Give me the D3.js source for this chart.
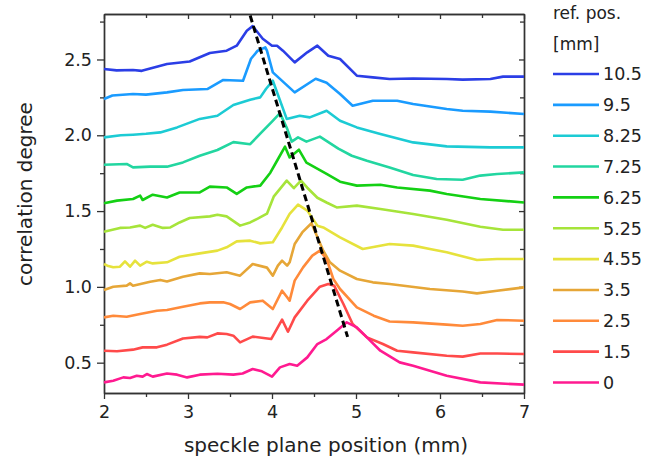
<!DOCTYPE html>
<html>
<head>
<meta charset="utf-8">
<script src="https://cdn.jsdelivr.net/npm/d3@7"></script>
<style>
  body { margin: 0; background: #fff; }
  text { font-family: "DejaVu Sans", sans-serif; fill: #222; }
</style>
</head>
<body>
<div id="chart"></div>
<script>
// reference positions (legend order, top curve first)
var refLabels = ["10.5", "9.5", "8.25", "7.25", "6.25", "5.25", "4.55", "3.5", "2.5", "1.5", "0"]
var refColors = ["#2b3ee6", "#1a9bff", "#1ccbd4", "#22d6a0", "#14d014", "#a6e43a",
                 "#e6e23c", "#e6a637", "#ff8a3a", "#ff4a4a", "#ff1a90"]

// curves: [speckle plane position (mm), correlation degree]
var ref105 = [[2.00,2.437],[2.15,2.428],[2.345,2.431],[2.45,2.425],[2.75,2.470],[3.02,2.487],[3.26,2.543],[3.46,2.558],[3.58,2.591],[3.70,2.690],[3.77,2.720],[3.89,2.637],[4.00,2.591],[4.06,2.591],[4.13,2.558],[4.27,2.481],[4.42,2.547],[4.54,2.591],[4.67,2.525],[4.81,2.503],[5.01,2.393],[5.20,2.382],[5.40,2.371],[5.68,2.375],[6.08,2.371],[6.27,2.367],[6.60,2.371],[6.75,2.387],[7.00,2.387]]
var ref95 = [[2.00,2.239],[2.10,2.262],[2.345,2.272],[2.50,2.268],[2.75,2.283],[2.94,2.299],[3.23,2.305],[3.42,2.365],[3.655,2.360],[3.75,2.505],[3.83,2.558],[3.92,2.580],[3.94,2.558],[4.01,2.415],[4.27,2.283],[4.52,2.373],[4.65,2.347],[4.81,2.272],[4.96,2.195],[5.20,2.228],[5.49,2.228],[5.68,2.206],[6.08,2.173],[6.27,2.162],[6.60,2.156],[7.00,2.140]]
var ref825 = [[2.00,1.986],[2.20,2.000],[2.345,2.004],[2.50,2.010],[2.67,2.019],[2.87,2.052],[3.14,2.108],[3.35,2.129],[3.54,2.200],[3.74,2.235],[3.86,2.250],[3.93,2.307],[4.01,2.360],[4.175,2.108],[4.33,2.129],[4.45,2.118],[4.65,2.162],[4.81,2.096],[5.01,2.052],[5.29,2.009],[5.68,1.953],[6.08,1.927],[6.60,1.920],[7.00,1.920]]
var ref725 = [[2.00,1.806],[2.27,1.811],[2.345,1.788],[2.55,1.793],[2.75,1.793],[2.94,1.821],[3.14,1.865],[3.35,1.903],[3.54,1.955],[3.74,1.941],[3.86,2.011],[4.00,2.090],[4.095,2.146],[4.18,2.044],[4.235,1.958],[4.31,1.986],[4.41,1.958],[4.57,1.991],[4.79,1.912],[4.95,1.865],[5.13,1.832],[5.40,1.788],[5.68,1.738],[5.96,1.712],[6.27,1.707],[6.48,1.734],[6.68,1.745],[7.00,1.755]]
var ref625 = [[2.00,1.551],[2.155,1.569],[2.345,1.580],[2.43,1.602],[2.46,1.573],[2.58,1.608],[2.75,1.590],[2.90,1.623],[3.14,1.623],[3.26,1.661],[3.46,1.656],[3.58,1.613],[3.70,1.656],[3.86,1.668],[3.98,1.753],[4.06,1.832],[4.155,1.925],[4.21,1.854],[4.32,1.905],[4.41,1.819],[4.65,1.745],[4.81,1.694],[5.01,1.668],[5.29,1.674],[5.49,1.656],[5.88,1.635],[6.08,1.613],[6.48,1.580],[7.00,1.557]]
var ref525 = [[2.00,1.364],[2.19,1.389],[2.31,1.392],[2.43,1.404],[2.49,1.389],[2.58,1.410],[2.70,1.389],[2.79,1.392],[2.90,1.425],[3.02,1.454],[3.26,1.465],[3.35,1.476],[3.46,1.465],[3.62,1.404],[3.74,1.425],[3.83,1.450],[3.94,1.483],[4.02,1.595],[4.175,1.701],[4.26,1.651],[4.345,1.701],[4.42,1.654],[4.54,1.588],[4.655,1.555],[4.77,1.524],[5.01,1.536],[5.29,1.514],[5.68,1.481],[6.08,1.443],[6.48,1.397],[6.75,1.377],[7.00,1.377]]
var ref455 = [[2.00,1.151],[2.04,1.140],[2.11,1.129],[2.19,1.133],[2.25,1.168],[2.31,1.133],[2.37,1.173],[2.43,1.140],[2.51,1.166],[2.58,1.155],[2.75,1.162],[2.90,1.199],[3.14,1.221],[3.35,1.239],[3.46,1.261],[3.58,1.300],[3.74,1.305],[3.86,1.287],[4.01,1.294],[4.12,1.392],[4.21,1.481],[4.31,1.542],[4.42,1.503],[4.54,1.404],[4.61,1.392],[4.81,1.327],[5.08,1.250],[5.40,1.283],[5.68,1.272],[5.88,1.250],[6.08,1.228],[6.44,1.177],[6.68,1.184],[7.00,1.184]]
var ref35 = [[2.00,0.980],[2.11,1.001],[2.27,1.008],[2.31,1.023],[2.345,1.008],[2.55,1.034],[2.67,1.046],[2.75,1.036],[2.94,1.067],[3.14,1.089],[3.26,1.085],[3.46,1.096],[3.62,1.074],[3.77,1.151],[3.94,1.127],[4.01,1.074],[4.07,1.140],[4.12,1.173],[4.18,1.140],[4.21,1.162],[4.27,1.283],[4.36,1.359],[4.47,1.420],[4.61,1.239],[4.69,1.162],[4.81,1.107],[5.01,1.052],[5.20,1.030],[5.40,1.019],[5.88,0.986],[6.27,0.970],[6.44,0.957],[6.68,0.975],[7.00,0.997]]
var ref25 = [[2.00,0.799],[2.11,0.810],[2.27,0.803],[2.43,0.821],[2.63,0.843],[2.75,0.848],[2.94,0.869],[3.14,0.891],[3.26,0.898],[3.42,0.898],[3.50,0.887],[3.62,0.854],[3.74,0.898],[3.89,0.909],[4.01,0.854],[4.12,0.975],[4.18,0.931],[4.21,0.909],[4.27,1.041],[4.37,1.129],[4.48,1.206],[4.57,1.239],[4.65,1.184],[4.73,1.052],[4.81,0.986],[5.01,0.865],[5.21,0.810],[5.40,0.772],[5.68,0.766],[6.08,0.751],[6.27,0.744],[6.48,0.755],[6.68,0.782],[7.00,0.777]]
var ref15 = [[2.00,0.579],[2.155,0.575],[2.345,0.586],[2.46,0.601],[2.63,0.601],[2.75,0.619],[2.94,0.660],[3.14,0.670],[3.23,0.667],[3.35,0.693],[3.46,0.689],[3.54,0.678],[3.62,0.634],[3.77,0.672],[3.99,0.656],[4.12,0.784],[4.19,0.704],[4.27,0.799],[4.42,0.909],[4.57,1.001],[4.67,1.019],[4.74,1.008],[4.85,0.887],[4.96,0.755],[5.13,0.667],[5.32,0.623],[5.49,0.579],[5.68,0.568],[6.08,0.546],[6.27,0.540],[6.48,0.561],[6.68,0.561],[7.00,0.557]]
var ref0 = [[2.00,0.370],[2.11,0.381],[2.23,0.403],[2.31,0.399],[2.39,0.414],[2.46,0.408],[2.51,0.425],[2.58,0.408],[2.75,0.429],[2.87,0.421],[2.99,0.403],[3.14,0.421],[3.35,0.427],[3.54,0.421],[3.65,0.429],[3.77,0.458],[3.88,0.443],[4.00,0.408],[4.095,0.469],[4.21,0.491],[4.30,0.480],[4.42,0.535],[4.54,0.623],[4.65,0.656],[4.77,0.711],[4.89,0.766],[5.01,0.733],[5.13,0.667],[5.29,0.579],[5.52,0.502],[5.68,0.480],[6.08,0.414],[6.48,0.370],[7.00,0.355]]
var series = [ref105, ref95, ref825, ref725, ref625, ref525, ref455, ref35, ref25, ref15, ref0]

// dashed guide through the peaks
var peakLine = [[3.74, 2.79], [4.9, 0.67]]

var xTicks = [2, 3, 4, 5, 6, 7]
var yTicks = [0.5, 1.0, 1.5, 2.0, 2.5]

var margin = {top: 14, left: 104},
    width = 420,
    height = 379

var svg = d3.select("#chart")
  .append("svg")
    .attr("width", 659)
    .attr("height", 470)

var g = svg.append("g")
    .attr("transform", "translate(" + margin.left + "," + margin.top + ")")

var x = d3.scaleLinear().domain([2, 7]).range([0, width])
var y = d3.scaleLinear().domain([0.3, 2.8]).range([height, 0])

var xMinor = d3.range(2.5, 7, 1)
var yMinor = d3.range(0.75, 2.8, 0.5)

// ----------------- //
// Axes
// ----------------- //
function styleAxis(sel) {
  sel.select(".domain").attr("stroke", "#333").attr("stroke-width", 1.4)
  sel.selectAll(".tick line").attr("stroke", "#333").attr("stroke-width", 1.3)
  sel.selectAll(".tick text").style("font-size", "17.5px").attr("fill", "#222")
}

// bottom
g.append("g")
    .attr("transform", "translate(0," + height + ")")
    .call(d3.axisBottom(x).tickValues(xTicks).tickFormat(d3.format("d")).tickSize(6).tickSizeOuter(0).tickPadding(7))
    .call(styleAxis)
g.append("g")
    .attr("transform", "translate(0," + height + ")")
    .call(d3.axisBottom(x).tickValues(xMinor).tickFormat("").tickSize(4).tickSizeOuter(0))
    .call(styleAxis)

// left
g.append("g")
    .call(d3.axisLeft(y).tickValues(yTicks).tickFormat(d3.format(".1f")).tickSize(7).tickSizeOuter(0).tickPadding(5))
    .call(styleAxis)
g.append("g")
    .call(d3.axisLeft(y).tickValues(yMinor).tickFormat("").tickSize(4).tickSizeOuter(0))
    .call(styleAxis)

// top mirror, ticks inside
g.append("g")
    .call(d3.axisTop(x).tickValues(xTicks).tickFormat("").tickSize(-5).tickSizeOuter(0))
    .call(styleAxis)
g.append("g")
    .call(d3.axisTop(x).tickValues(xMinor).tickFormat("").tickSize(-4).tickSizeOuter(0))
    .call(styleAxis)

// right mirror, ticks inside
g.append("g")
    .attr("transform", "translate(" + width + ",0)")
    .call(d3.axisRight(y).tickValues(yTicks).tickFormat("").tickSize(-5).tickSizeOuter(0))
    .call(styleAxis)
g.append("g")
    .attr("transform", "translate(" + width + ",0)")
    .call(d3.axisRight(y).tickValues(yMinor).tickFormat("").tickSize(-4).tickSizeOuter(0))
    .call(styleAxis)

// axis titles
svg.append("text")
    .attr("x", 326)
    .attr("y", 452)
    .attr("text-anchor", "middle")
    .style("font-size", "20px")
    .text("speckle plane position (mm)")

svg.append("text")
    .attr("transform", "translate(32,194) rotate(-90)")
    .attr("text-anchor", "middle")
    .style("font-size", "20px")
    .text("correlation degree")

// ----------------- //
// Curves
// ----------------- //
var line = d3.line()
    .x(function(d) { return x(d[0]) })
    .y(function(d) { return y(d[1]) })

g.selectAll(".curve")
  .data(series)
  .enter()
  .append("path")
    .attr("class", "curve")
    .attr("d", line)
    .attr("fill", "none")
    .attr("stroke", function(d, i) { return refColors[i] })
    .attr("stroke-width", 2.6)
    .attr("stroke-linejoin", "round")

g.append("path")
    .attr("d", line(peakLine))
    .attr("fill", "none")
    .attr("stroke", "#000")
    .attr("stroke-width", 3)
    .attr("stroke-dasharray", "7,4")

// ----------------- //
// Legend
// ----------------- //
var legend = svg.append("g")
    .attr("transform", "translate(553,0)")

legend.append("text").attr("x", 0).attr("y", 19).style("font-size", "17px").text("ref. pos.")
legend.append("text").attr("x", 0).attr("y", 50).style("font-size", "17px").text("[mm]")

var item = legend.selectAll(".item")
  .data(refLabels)
  .enter()
  .append("g")
    .attr("class", "item")
    .attr("transform", function(d, i) { return "translate(0," + (74 + i * 30.85) + ")" })

item.append("line")
    .attr("x1", 0).attr("x2", 46)
    .attr("stroke", function(d, i) { return refColors[i] })
    .attr("stroke-width", 2.6)

item.append("text")
    .attr("x", 50)
    .attr("dy", "0.36em")
    .style("font-size", "17.5px")
    .text(function(d) { return d })
</script>
</body>
</html>
